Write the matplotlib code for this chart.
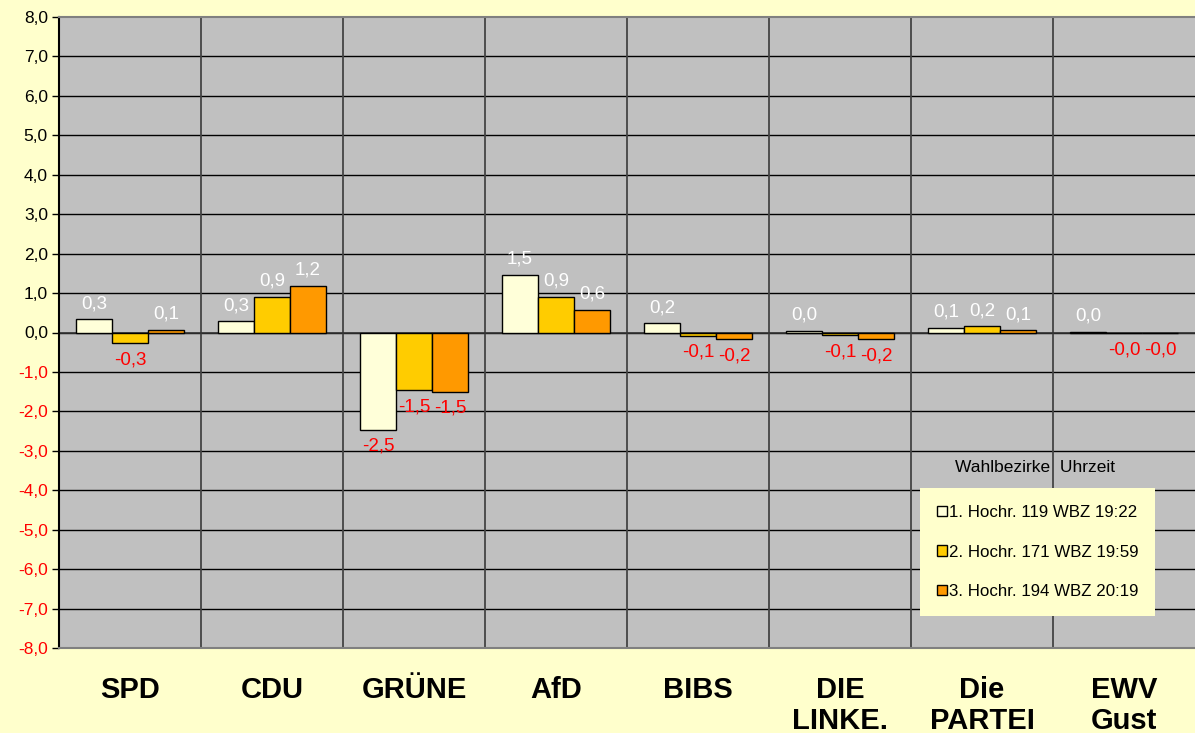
import numpy as np
import matplotlib.pyplot as plt
from matplotlib.patches import Patch

plt.rcParams['font.family'] = ['Liberation Sans', 'DejaVu Sans']

parteien = ['SPD', 'CDU', 'GRÜNE', 'AfD', 'BIBS', 'DIE\nLINKE.', 'Die\nPARTEI', 'EWV\nGust']
hochr1 = [0.33, 0.28, -2.46, 1.47, 0.23, 0.04, 0.12, 0.02]
hochr2 = [-0.27, 0.91, -1.47, 0.91, -0.08, -0.06, 0.16, -0.01]
hochr3 = [0.07, 1.19, -1.50, 0.58, -0.16, -0.16, 0.06, -0.02]
reihen = ['1. Hochr. 119 WBZ 19:22', '2. Hochr. 171 WBZ 19:59', '3. Hochr. 194 WBZ 20:19']
farben = ['#FFFFD9', '#FFCC00', '#FF9900']
yticks = np.arange(-8, 9, 1)


def komma(v):
    s = f'{round(v, 1):.1f}'.replace('.', ',')
    if v < 0 and not s.startswith('-'):
        s = '-' + s
    return s


fig = plt.figure(figsize=(11.95, 7.33), dpi=100, facecolor='#FFFFCC')
ax = fig.add_axes([59 / 1195, 85 / 733, 1 - 59 / 1195, (648 - 17) / 733])
ax.set_facecolor('#C0C0C0')

x = np.arange(len(parteien))
breite = 0.254
for i, werte in enumerate([hochr1, hochr2, hochr3]):
    pos = x + (i - 1) * breite
    ax.bar(pos, werte, breite, color=farben[i], edgecolor='black', linewidth=1, zorder=3)
    for px, v in zip(pos, werte):
        if v >= 0:
            ax.annotate(komma(v), (px, v), xytext=(0, 5), textcoords='offset points',
                        ha='center', va='bottom', color='white', fontsize=13.5)
        else:
            ax.annotate(komma(v), (px, v), xytext=(0, -6), textcoords='offset points',
                        ha='center', va='top', color='red', fontsize=13.5)

ax.set_xlim(-0.5, len(parteien) - 0.5)
ax.set_ylim(-8, 8)
ax.set_yticks(yticks)
ax.set_yticklabels([f'{t:.1f}'.replace('.', ',') for t in yticks], fontsize=12.5)
for lab, t in zip(ax.get_yticklabels(), yticks):
    lab.set_color('red' if t < 0 else 'black')
ax.tick_params(axis='y', length=5, width=1, pad=3)

ax.set_xticks(x)
ax.set_xticklabels(parteien, fontsize=21, fontweight='bold', va='top', linespacing=1.15)
ax.tick_params(axis='x', length=0, pad=20)

for y in yticks[1:-1]:
    ax.axhline(y, color='black', linewidth=1, zorder=1)
for b in x[:-1] + 0.5:
    ax.axvline(b, color='#444444', linewidth=1.3, zorder=1)
ax.axhline(0, color='#333333', linewidth=1.2, zorder=2)

ax.spines['left'].set_color('black')
ax.spines['bottom'].set_color('#808080')
ax.spines['top'].set_color('#808080')
ax.spines['right'].set_visible(False)
for s in ax.spines.values():
    s.set_linewidth(1.5)

handles = [Patch(facecolor=farben[i], edgecolor='black', label=reihen[i]) for i in range(3)]
leg = fig.legend(handles=handles, loc='upper left', bbox_to_anchor=(920 / 1195, 1 - 488 / 733),
                 frameon=True, facecolor='#FFFFCC', edgecolor='none', framealpha=1,
                 fancybox=False, fontsize=12.2, handlelength=0.6, handleheight=0.6,
                 handletextpad=0.1, labelspacing=1.45, borderpad=1.0, borderaxespad=0)
fig.text(955 / 1195, 1 - 467 / 733, 'Wahlbezirke  Uhrzeit', fontsize=12.5, va='center', ha='left')

fig.savefig('out.png', dpi=100, facecolor=fig.get_facecolor())
